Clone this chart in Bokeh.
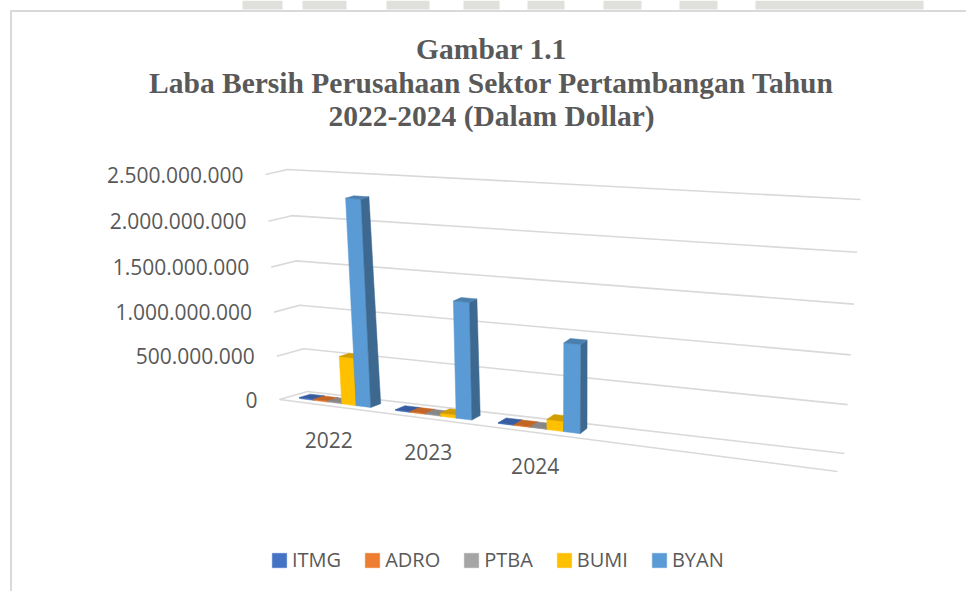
from bokeh.plotting import figure
from bokeh.models import ColumnDataSource, Range1d, Legend, LegendItem
from bokeh.core.properties import value
from bokeh.embed import file_html
from bokeh.resources import INLINE

# ---------------- data ----------------
years = ["2022", "2023", "2024"]
series_names = ["ITMG", "ADRO", "PTBA", "BUMI", "BYAN"]
itmg = [13_000_000, 10_000_000, 8_000_000]
adro = [11_000_000, 9_000_000, 7_000_000]
ptba = [10_000_000, 8_000_000, 6_000_000]
bumi = [540_000_000, 35_000_000, 110_000_000]
byan = [2_280_000_000, 1_277_000_000, 946_000_000]
tick_values = [0, 500_000_000, 1_000_000_000, 1_500_000_000, 2_000_000_000, 2_500_000_000]
tick_labels = ["0", "500.000.000", "1.000.000.000", "1.500.000.000", "2.000.000.000", "2.500.000.000"]
title_lines = ["Gambar 1.1",
               "Laba Bersih Perusahaan Sektor Pertambangan Tahun",
               "2022-2024 (Dalam Dollar)"]
series_values = [itmg, adro, ptba, bumi, byan]
colors = ["#4472C4", "#ED7D31", "#A5A5A5", "#FFC000", "#5B9BD5"]

# ---------------- 3D projection (layout) ----------------
VMAX = tick_values[-1]
N_SLOTS = 5            # category slots on the floor
GAP = 0.125            # offset of cluster inside a slot
BW = 0.15              # bar width (slot units)
D0, D1 = 0.3, 0.7      # bar depth range
RU, RV = 1.2, 1.05     # perspective foreshortening
CORNERS = {
    (0, 0, 0): (279, 399), (1, 0, 0): (837, 471),
    (0, 1, 0): (307, 391), (1, 1, 0): (844, 453),
    (0, 0, 1): (265, 174), (1, 0, 1): (855, 210),
    (0, 1, 1): (287, 169), (1, 1, 1): (860, 199),
}


def proj(u, d, v):
    s = u / N_SLOTS
    s = s / (s + RU * (1 - s))
    v = v / (v + RV * (1 - v))
    x = y = 0.0
    for (a, b, c), (cx, cy) in CORNERS.items():
        w = (s if a else 1 - s) * (d if b else 1 - d) * (v if c else 1 - v)
        x += w * cx
        y += w * cy
    return x, y


def face(pts):
    xs, ys = zip(*[proj(*p) for p in pts])
    return list(xs), list(ys)


def shade(hexcol, f):
    h = hexcol.lstrip("#")
    r, g, b = (int(h[k:k + 2], 16) for k in (0, 2, 4))
    return "#%02x%02x%02x" % (int(r * f), int(g * f), int(b * f))


p = figure(width=966, height=591, output_backend="svg", toolbar_location=None,
           x_range=Range1d(0, 966), y_range=Range1d(591, 0),
           min_border=0, outline_line_color=None)
p.axis.visible = False
p.grid.visible = False
p.background_fill_color = "white"
p.border_fill_color = "white"

# page stripes + chart border (decoration)
p.quad(left=[242, 302, 386, 463, 527, 603, 679, 755],
       right=[282, 346, 429, 499, 564, 641, 717, 923],
       top=0, bottom=9, fill_color="#e0e1dd", line_color=None)
p.segment(x0=[10.5, 10], y0=[10, 10.5], x1=[10.5, 966], y1=[591, 10.5],
          line_color="#d9d9d9", line_width=2)

# gridlines: side wall + back wall, floor front edge
gx, gy = [], []
for t in tick_values:
    v = t / VMAX
    a = proj(0, 0, v); b = proj(0, 1, v); c = proj(N_SLOTS, 1, v)
    gx.append([a[0], b[0], c[0]]); gy.append([a[1], b[1], c[1]])
a = proj(0, 0, 0); c = proj(N_SLOTS, 0, 0)
gx.append([a[0], c[0]]); gy.append([a[1], c[1]])
p.multi_line(xs=gx, ys=gy, line_color="#d9d9d9", line_width=1.6)

# bars
front_renderers = []
for j, (name, vals, col) in enumerate(zip(series_names, series_values, colors)):
    fr = {"xs": [], "ys": []}; sd = {"xs": [], "ys": []}; tp = {"xs": [], "ys": []}
    for i, val in enumerate(vals):
        u0 = i + GAP + j * BW
        u1 = u0 + BW
        vt = val / VMAX
        x, y = face([(u0, D0, 0), (u1, D0, 0), (u1, D0, vt), (u0, D0, vt)])
        fr["xs"].append(x); fr["ys"].append(y)
        x, y = face([(u1, D0, 0), (u1, D1, 0), (u1, D1, vt), (u1, D0, vt)])
        sd["xs"].append(x); sd["ys"].append(y)
        x, y = face([(u0, D0, vt), (u1, D0, vt), (u1, D1, vt), (u0, D1, vt)])
        tp["xs"].append(x); tp["ys"].append(y)
    r = p.patches("xs", "ys", source=ColumnDataSource(fr), fill_color=col,
                  line_color=col, line_width=0.5)
    p.patches("xs", "ys", source=ColumnDataSource(sd), fill_color=shade(col, 0.68),
              line_color=shade(col, 0.68), line_width=0.5)
    p.patches("xs", "ys", source=ColumnDataSource(tp), fill_color=shade(col, 0.82),
              line_color=shade(col, 0.82), line_width=0.5)
    front_renderers.append(r)

# value labels (tick labels of the value axis)
lx, ly = [], []
for t in tick_values:
    x, y = proj(0, 0, t / VMAX)
    lx.append(x - 22); ly.append(y)
p.text(x=lx, y=ly, text=tick_labels, text_align="right", text_baseline="middle",
       text_font=value("Open Sans"), text_font_size="21px", text_color="#595959")

# category labels
cx, cy = [], []
for i, _ in enumerate(years):
    x, y = proj(i + 0.5, 0, 0)
    cx.append(x + 2); cy.append(y + 34)
p.text(x=cx, y=cy, text=years, text_align="center", text_baseline="middle",
       text_font=value("Open Sans"), text_font_size="21px", text_color="#595959")

# title
p.text(x=[491, 491, 491], y=[48, 82, 115], text=title_lines, text_align="center",
       text_baseline="alphabetic", text_font=value("Liberation Serif"),
       text_font_style="bold", text_font_size="29.5px", text_color="#595959")

legend = Legend(items=[LegendItem(label=n, renderers=[r])
                       for n, r in zip(series_names, front_renderers)],
                orientation="horizontal", location=(270, 18),
                glyph_width=18, glyph_height=18, label_standoff=4, spacing=22,
                padding=0, margin=0, border_line_color=None,
                background_fill_alpha=0,
                label_text_font="Open Sans", label_text_font_size="20px",
                label_text_color="#595959")
p.add_layout(legend)

open("out.html", "w").write(file_html(p, INLINE))
